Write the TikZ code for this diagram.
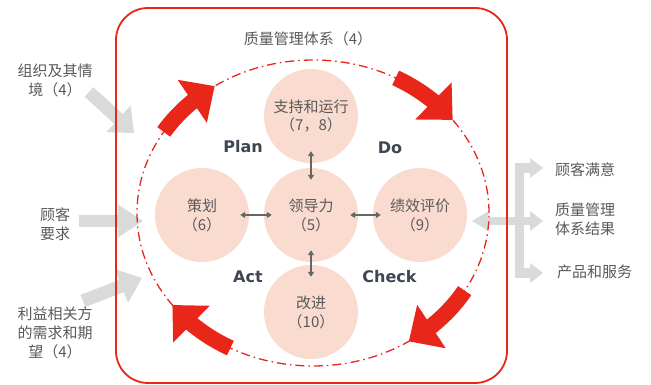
\documentclass[tikz,border=0pt]{standalone}
\usepackage{fontspec}
\newfontfamily\cjk{Noto Sans CJK SC}
\newfontfamily\pdcafont{DejaVu Sans}
\usetikzlibrary{arrows.meta,calc}
\definecolor{qred}{HTML}{E8261A}
\definecolor{qgray}{HTML}{D9DADA}
\definecolor{qtext}{HTML}{595959}
\definecolor{qpink}{HTML}{FADBD0}
\definecolor{qdark}{HTML}{666666}
\definecolor{qblue}{HTML}{3E4553}
% filled triangular head: #1 colour, #2 tip, #3 point toward tail, #4 length, #5 half width
\newcommand\headtri[5]{%
  \coordinate (hb) at ($(#2)!#4!(#3)$);
  \fill[#1] (#2) -- ($(hb)!#5!90:(#2)$) -- ($(hb)!#5!-90:(#2)$) -- cycle;}
% red arrow along the cycle ellipse: #1 tail angle, #2 tip angle, #3 shaft end angle
\newcommand\cyclearrow[3]{%
  \coordinate (rT) at ([shift={(#2:176 and 153)}]C);
  \coordinate (rP) at ([shift={(#3:176 and 153)}]C);
  \draw[qred, line width=16pt] ([shift={(#1:176 and 153)}]C) arc[start angle=#1, end angle=#3, x radius=176, y radius=153];
  \headtri{qred}{rT}{rP}{27pt}{26pt}}
\begin{document}
\begin{tikzpicture}[x=1pt,y=1pt,
  txt/.style={font=\cjk\fontsize{15}{19}\selectfont, text=qtext, align=center, inner sep=0pt},
  rtxt/.style={txt, align=left, anchor=west},
  stage/.style={circle, fill=qpink, minimum size=94pt, inner sep=0pt, font=\cjk\fontsize{15}{19}\selectfont, text=qtext, align=center},
  pdca/.style={font=\pdcafont\bfseries\fontsize{16}{19}\selectfont, text=qblue, inner sep=0pt},
  link/.style={qdark, line width=1.6pt, {Triangle[length=5pt,width=6pt]}-{Triangle[length=5pt,width=6pt]}},
  gshaft/.style={qgray, line width=#1},
]
\useasboundingbox (0,0) rectangle (651,385);

% gray input arrows
\coordinate (g1s) at (89,293);  \coordinate (g1e) at (134,252);
\coordinate (g2s) at (79,164);  \coordinate (g2e) at (143,164);
\coordinate (g3s) at (83,84);   \coordinate (g3e) at (142,107);
\draw[gshaft=13pt] (g1s) -- ($(g1e)!19pt!(g1s)$);
\headtri{qgray}{g1e}{g1s}{21pt}{18pt}
\draw[gshaft=12.5pt] (g2s) -- ($(g2e)!23pt!(g2s)$);
\headtri{qgray}{g2e}{g2s}{25pt}{16.5pt}
\draw[gshaft=13pt] (g3s) -- ($(g3e)!20pt!(g3s)$);
\headtri{qgray}{g3e}{g3s}{22pt}{18pt}

% gray output arrows
\coordinate (bt) at (543,217); \coordinate (bm1) at (519.5,217);
\coordinate (bm2) at (519.5,112); \coordinate (bb) at (543,112);
\coordinate (ml) at (472,164); \coordinate (mr) at (543,164);
\draw[gshaft=9.5pt, line join=miter] ($(bt)!11pt!(bm1)$) -- (bm1) -- (bm2) -- ($(bb)!11pt!(bm2)$);
\headtri{qgray}{bt}{bm1}{13pt}{10pt}
\headtri{qgray}{bb}{bm2}{13pt}{10pt}
\draw[gshaft=8.5pt] ($(ml)!14pt!(mr)$) -- ($(mr)!11pt!(ml)$);
\headtri{qgray}{ml}{mr}{16pt}{9.5pt}
\headtri{qgray}{mr}{ml}{13pt}{10pt}

% frame
\draw[qred, line width=1.8pt, rounded corners=32pt] (116,2) rectangle (507,377);
\node[txt] (title) at (308,346) {质量管理体系（4）};

% cycle ellipse
\coordinate (C) at (313,172);
\draw[qred, line width=1.3pt, dash pattern=on 9pt off 4pt on 1.5pt off 4pt] (C) ellipse [x radius=176, y radius=153];

% red cycle arrows
\cyclearrow{148}{124}{132}
\cyclearrow{62}{37.5}{45.5}
\cyclearrow{-30.5}{-57}{-49}
\cyclearrow{-118}{-143}{-135}

% stages
\node[stage] (sup) at (311,269) {支持和运行\\（7，8）};
\node[stage] (pln) at (202,170) {策划\\（6）};
\node[stage] (lead) at (311,170) {领导力\\（5）};
\node[stage] (perf) at (420,170) {绩效评价\\（9）};
\node[stage] (imp) at (311,73) {改进\\（10）};

\draw[link, shorten <=-9pt, shorten >=-8pt] (pln) -- (lead);
\draw[link, shorten <=-8pt, shorten >=-8pt] (lead) -- (perf);
\draw[link, shorten <=-12pt, shorten >=-12pt] (sup) -- (lead);
\draw[link, shorten <=-12pt, shorten >=-12pt] (lead) -- (imp);

% PDCA labels
\node[pdca] (plan) at (243,238) {Plan};
\node[pdca] (do) at (390,237) {Do};
\node[pdca] (act) at (248,108) {Act};
\node[pdca] (check) at (389.5,108) {Check};

% left texts
\node[txt] (ctx) at (55,305) {组织及其情\\境（4）};
\node[txt] (req) at (55,161) {顾客\\要求};
\node[txt] (ip) at (55,52) {利益相关方\\的需求和期\\望（4）};

% right texts
\node[rtxt] (sat) at (555,215) {顾客满意};
\node[rtxt] (res) at (555,165.5) {质量管理\\体系结果};
\node[rtxt] (prod) at (557,113) {产品和服务};
\end{tikzpicture}
\end{document}
